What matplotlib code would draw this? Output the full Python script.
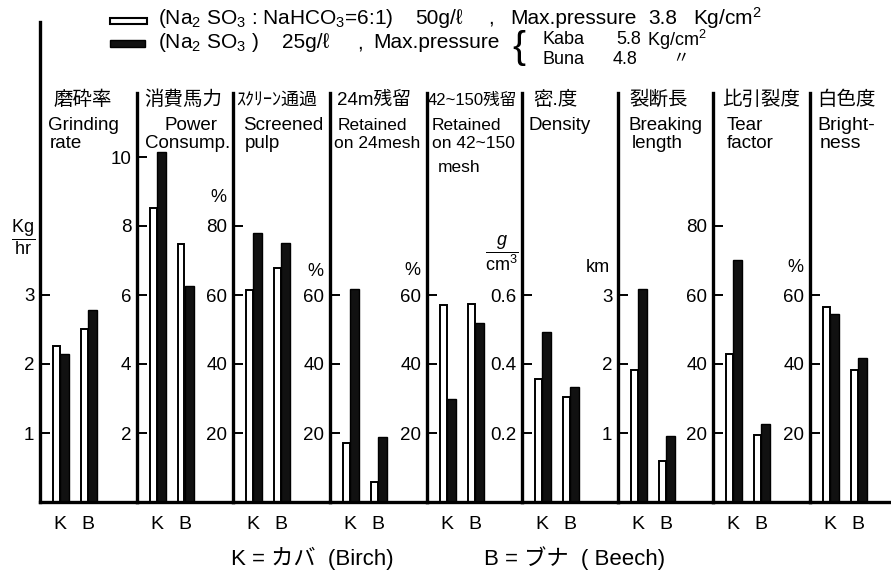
#Bar chart panels: pulp properties of Kaba (birch) and Buna (beech)
#white bars = Na2SO3:NaHCO3 (6:1) 50g/l, black bars = Na2SO3 25g/l

import matplotlib
matplotlib.use('Agg')
import matplotlib.pyplot as plt
from matplotlib.patches import Rectangle

plt.rcParams['font.family'] = ['Liberation Sans', 'Noto Sans CJK JP', 'DejaVu Sans']
plt.rcParams['mathtext.fontset'] = 'custom'
plt.rcParams['mathtext.rm'] = 'Liberation Sans'
plt.rcParams['mathtext.it'] = 'Liberation Sans:italic'

#data
woods = ['K', 'B']
titles_jp = ['磨砕率', '消費馬力', 'ｽｸﾘｰﾝ通過', '24m残留', '42~150残留', '密.度', '裂断長', '比引裂度', '白色度']
titles_en = [['Grinding', 'rate'], ['Power', 'Consump.'], ['Screened', 'pulp'], ['Retained', 'on 24mesh'],
             ['Retained', 'on 42~150', 'mesh'], ['Density'], ['Breaking', 'length'], ['Tear', 'factor'], ['Bright-', 'ness']]
units = [r'$\dfrac{\mathrm{Kg}}{\mathrm{hr}}$', '', '%', '%', '%', r'$\dfrac{g}{\mathrm{cm}^3}$', 'km', '', '%']
yticks = [[1, 2, 3], [2, 4, 6, 8, 10], [20, 40, 60, 80], [20, 40, 60], [20, 40, 60],
          [0.2, 0.4, 0.6], [1, 2, 3], [20, 40, 60, 80], [20, 40, 60]]
ytick_labels = [['1', '2', '3'], ['2', '4', '6', '8', '10'], ['20', '40', '60', '80'], ['20', '40', '60'],
                ['20', '40', '60'], ['0.2', '0.4', '0.6'], ['1', '2', '3'], ['20', '40', '60', '80'], ['20', '40', '60']]
# white bars (Na2SO3:NaHCO3) for K and B, black bars (Na2SO3) for K and B
mix_k = [2.26, 8.53, 61.5, 17.2, 57.1, 0.356, 1.91, 43.0, 56.5]
mix_b = [2.51, 7.47, 67.9, 5.8, 57.3, 0.305, 0.59, 19.3, 38.3]
sulf_k = [2.14, 10.15, 77.9, 61.7, 29.8, 0.492, 3.08, 70.1, 54.6]
sulf_b = [2.78, 6.26, 75.0, 18.9, 51.8, 0.332, 0.95, 22.5, 41.6]
steps = [1, 2, 20, 20, 20, 0.2, 1, 20, 20]  # value of one tick spacing

#layout (pixels)
W, H = 891, 572
base = 502
tick_px = 69.0
lefts = [40, 137, 233, 330, 427, 522, 618, 713, 810]
rights = lefts[1:] + [W]
tops = [22] + [93] * 8
grp_px = 27.5   # distance K->B
off_px = 20.0   # divider -> K
jp_x = [53, 144, 236, 337, 428, 533, 630, 722, 817]
jp_size = [14, 14, 13, 13.5, 12, 14, 14, 14, 14]
en_x = [[48, 50], [165, 145], [243, 245], [338, 334], [432, 432, 438], [528], [628, 632], [727, 727], [817, 820]]
en_size = [13.5, 13.5, 13.5, 12.5, 12.5, 13.5, 13.5, 13.5, 14]
en_y = [125, 143, 167]
unit_xy = [(23, 237), None, (218, 198), (315, 272), (412, 270), (502, 253), (598, 267), None, (795, 268)]

fx = lambda x: x / W
fy = lambda y: 1 - y / H

fig = plt.figure(figsize=(W / 100, H / 100), dpi=100)

for i in range(9):
    ax = fig.add_axes([fx(lefts[i]), fy(base), (rights[i] - lefts[i]) / W, (base - tops[i]) / H])
    ax.set_xlim(-off_px / grp_px, (rights[i] - lefts[i] - off_px) / grp_px)
    ax.set_ylim(0, (base - tops[i]) / tick_px * steps[i])
    ax.bar([0 - 0.12, 1 - 0.12], [mix_k[i], mix_b[i]], width=0.24, color='white', edgecolor='black', lw=1.4)
    ax.bar([0 + 0.17, 1 + 0.17], [sulf_k[i], sulf_b[i]], width=0.34, color='#111111', edgecolor='black', lw=1.0)
    for s in ['top', 'right']:
        ax.spines[s].set_visible(False)
    ax.spines['left'].set_linewidth(2.4)
    ax.spines['bottom'].set_linewidth(2.4)
    ax.set_yticks(yticks[i])
    ax.set_yticklabels(ytick_labels[i])
    ax.tick_params(axis='y', direction='in', length=7, width=1.4, labelsize=13.5, pad=4)
    ax.set_xticks([0, 1])
    ax.set_xticklabels(woods)
    ax.tick_params(axis='x', length=0, labelsize=14, pad=10)
    ax.patch.set_alpha(0)

    fig.text(fx(jp_x[i]), fy(100), titles_jp[i], fontsize=jp_size[i], va='center', ha='left')
    for j, t in enumerate(titles_en[i]):
        fig.text(fx(en_x[i][j]), fy(en_y[j]), t, fontsize=en_size[i], va='center', ha='left')
    if unit_xy[i] is not None:
        fig.text(fx(unit_xy[i][0]), fy(unit_xy[i][1]), units[i], fontsize=13, va='center', ha='center')

#legend lines at top
fig.patches.append(Rectangle((fx(110), fy(24)), 37 / W, 6 / H, transform=fig.transFigure,
                             facecolor='white', edgecolor='black', lw=1.5))
fig.patches.append(Rectangle((fx(110), fy(47)), 35 / W, 7 / H, transform=fig.transFigure,
                             facecolor='#111111', edgecolor='black', lw=1.0))
fs = 15
fig.text(fx(158), fy(18), r'(Na$_2$ SO$_3$ : NaHCO$_3$=6:1)', fontsize=fs, va='center', ha='left')
fig.text(fx(415), fy(18), '50g/ℓ', fontsize=fs, va='center', ha='left')
fig.text(fx(488), fy(18), ',', fontsize=fs, va='center', ha='left')
fig.text(fx(510), fy(18), 'Max.pressure', fontsize=fs, va='center', ha='left')
fig.text(fx(648), fy(18), '3.8', fontsize=fs, va='center', ha='left')
fig.text(fx(693), fy(18), 'Kg/cm$^2$', fontsize=fs, va='center', ha='left')

fig.text(fx(158), fy(43), r'(Na$_2$ SO$_3$ )', fontsize=fs, va='center', ha='left')
fig.text(fx(282), fy(43), '25g/ℓ', fontsize=fs, va='center', ha='left')
fig.text(fx(357), fy(43), ',', fontsize=fs, va='center', ha='left')
fig.text(fx(373), fy(43), 'Max.pressure', fontsize=fs, va='center', ha='left')
fig.text(fx(512), fy(48), '{', fontsize=28, va='center', ha='left')
fig.text(fx(542), fy(40), 'Kaba', fontsize=13, va='center', ha='left')
fig.text(fx(616), fy(40), '5.8', fontsize=13, va='center', ha='left')
fig.text(fx(647), fy(40), 'Kg/cm$^2$', fontsize=13, va='center', ha='left')
fig.text(fx(542), fy(59), 'Buna', fontsize=13, va='center', ha='left')
fig.text(fx(613), fy(59), '4.8', fontsize=13, va='center', ha='left')
fig.text(fx(672), fy(59), '〃', fontsize=12, va='center', ha='left')

#bottom explanation
fig.text(fx(312), fy(558), 'K = カバ  (Birch)', fontsize=16, va='center', ha='center')
fig.text(fx(575), fy(558), 'B = ブナ  ( Beech)', fontsize=16, va='center', ha='center')

fig.savefig('out.png', dpi=100)
